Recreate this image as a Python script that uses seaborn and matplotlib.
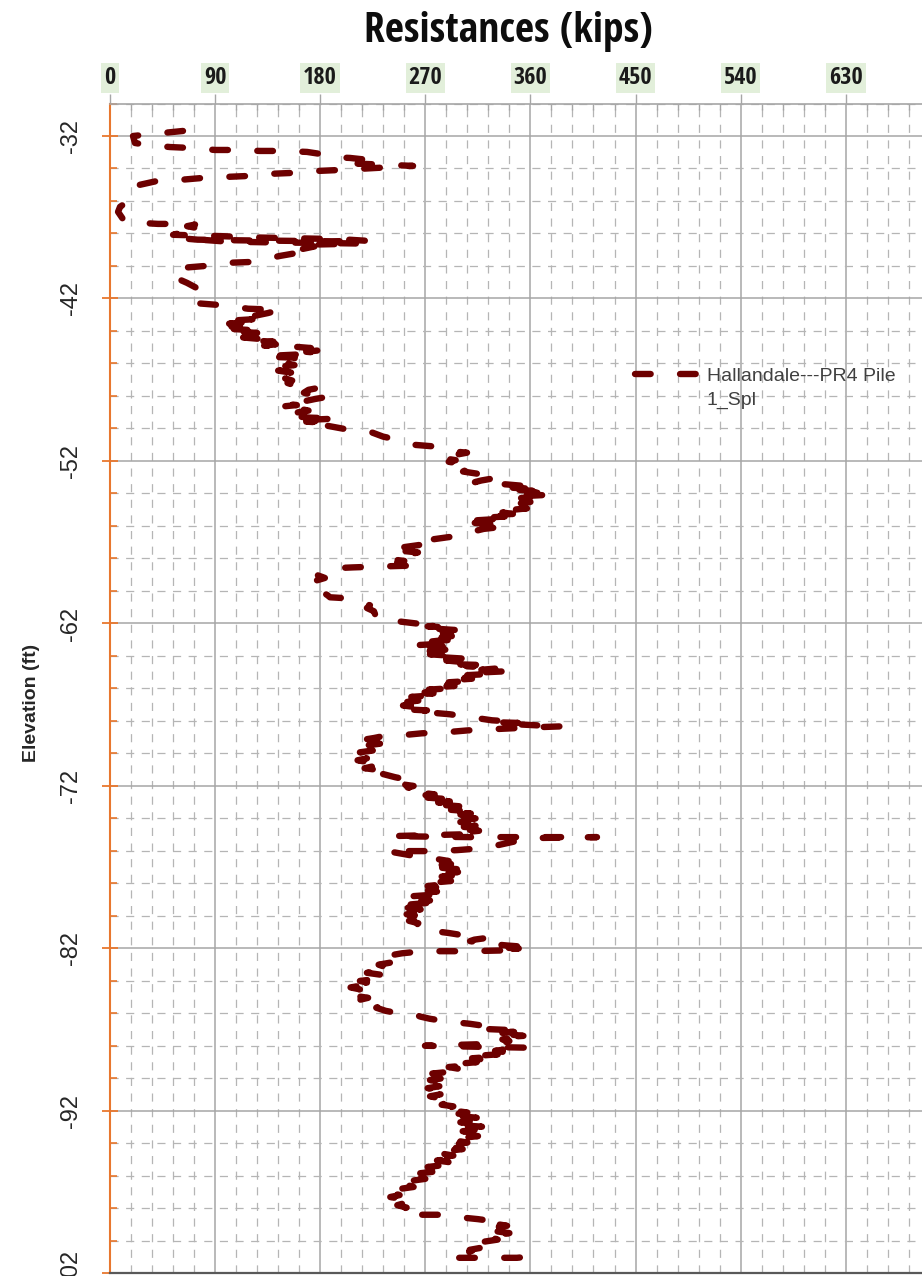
import numpy as np
import pandas as pd
import matplotlib
matplotlib.use("Agg")
import matplotlib.pyplot as plt
from matplotlib import font_manager
from matplotlib.ticker import FixedLocator, MultipleLocator
import seaborn as sns

# Pile driving resistance profile, in recording order, split by depth zone
elev_zone_a = [
    -31.69, -31.82, -32.00, -32.43, -32.55, -32.68, -32.74, -32.86, -32.86, -32.92,
    -32.92, -32.98, -33.10, -33.29, -33.35, -33.47, -33.60, -33.70, -33.78, -33.84,
    -34.09, -34.15, -34.27, -34.33, -34.46, -34.52, -34.58, -34.70, -34.77, -35.07,
    -35.93, -36.36, -36.67, -37.29, -37.41, -37.41, -37.45, -37.55, -37.70, -37.90,
    -38.08, -38.15, -38.25, -38.30, -38.35, -38.45, -38.48, -38.45, -38.42, -38.38,
    -38.30, -38.50, -38.55, -38.58, -38.62, -38.66, -38.70, -38.80, -38.95, -39.10,
    -39.20, -39.38, -39.75, -39.80, -39.99, -40.11, -40.67, -40.85, -41.04, -41.40,
]
res_zone_a = [
    62.5, 44.5, 19.7, 21.4, 31.7, 51.4, 70.2, 89.9, 108.7, 128.4,
    148.1, 168.7, 179.8, 185.8, 205.5, 220.9, 226.9, 212.0, 239.8, 259.5,
    197.0, 178.0, 156.7, 137.0, 118.2, 98.5, 79.6, 60.0, 40.2, 21.4,
    17.1, 8.6, 6.9, 12.8, 41.1, 60.0, 72.8, 66.0, 77.0, 64.0,
    54.0, 90.0, 128.4, 162.7, 197.0, 220.0, 190.0, 150.0, 110.0, 75.0,
    62.0, 100.0, 140.0, 180.0, 214.0, 188.0, 162.7, 175.0, 165.0, 152.0,
    160.0, 145.6, 121.6, 102.8, 83.0, 62.5, 53.1, 60.0, 66.0, 75.4,
]

elev_zone_b = [
    -42.26, -42.39, -42.50, -42.63, -42.66, -42.70, -42.90, -43.05, -43.19, -43.28,
    -43.36, -43.45, -43.55, -43.64, -43.72, -43.80, -43.88, -43.96, -44.04, -44.12,
    -44.20, -44.30, -44.40, -44.50, -44.58, -44.66, -44.74, -44.82, -44.90, -44.97,
    -45.05, -45.12, -45.20, -45.28, -45.34, -45.45, -45.52, -45.58, -45.64, -45.76,
    -45.89, -46.00, -46.10, -46.20, -46.32, -46.44, -46.56, -46.68, -46.80, -46.92,
    -47.05, -47.20, -47.35, -47.43, -47.52, -47.62, -47.80, -47.95, -48.04, -48.10,
    -48.18, -48.30, -48.40, -48.47, -48.56, -48.66, -48.72, -48.80, -48.90, -49.02,
    -49.12, -49.24, -49.33, -49.39, -49.46, -49.52, -49.58, -49.64, -49.70, -50.07,
    -50.20, -50.50, -50.69, -51.00, -51.12, -51.42, -51.49, -51.80, -51.95, -52.05,
    -52.20, -52.35, -52.50, -52.65, -52.80, -52.95, -53.10, -53.20, -53.30, -53.39,
    -53.45, -53.52, -53.60, -53.65, -53.72, -53.78, -53.84, -53.90, -53.96, -54.02,
    -54.10, -54.16, -54.22, -54.28, -54.36, -54.44, -54.52, -54.62, -54.72, -54.82,
    -54.92, -55.00, -55.08, -55.17, -55.26, -55.34, -55.42, -55.50, -55.58, -55.66,
    -55.74, -55.80, -55.90, -56.00, -56.09, -56.18, -56.28, -56.45, -56.65, -56.83,
    -56.95, -57.05, -57.14, -57.30, -57.40, -57.50, -57.63, -57.85, -58.06, -58.15,
    -58.25, -58.35, -58.43, -58.50, -58.55, -58.61, -58.80, -59.04, -59.20, -59.35,
    -59.50, -59.66, -59.85, -60.08, -60.25, -60.39, -60.45, -60.60, -60.70, -60.88,
    -61.05, -61.25, -61.44, -61.60, -61.69, -61.81,
]
res_zone_b = [
    68.5, 91.6, 105.0, 118.2, 131.0, 145.6, 135.0, 125.0, 110.0, 122.0,
    104.0, 118.0, 102.0, 120.0, 104.0, 122.0, 106.0, 124.0, 110.0, 126.0,
    112.0, 120.0, 114.0, 130.0, 120.0, 140.0, 126.0, 142.0, 132.0, 158.4,
    172.0, 162.0, 178.1, 168.0, 178.0, 160.0, 140.0, 132.7, 156.7, 162.0,
    167.0, 152.0, 158.0, 145.6, 156.0, 144.0, 155.0, 146.0, 156.0, 150.0,
    156.0, 152.0, 158.0, 162.0, 177.3, 170.0, 166.0, 174.0, 168.7, 182.4,
    176.0, 168.0, 158.0, 150.0, 160.0, 145.6, 158.0, 163.0, 170.0, 160.0,
    168.0, 158.0, 170.0, 194.4, 172.0, 186.0, 168.0, 182.0, 176.0, 203.8,
    222.6, 233.8, 245.8, 259.5, 280.0, 295.4, 305.7, 282.6, 296.0, 290.0,
    302.0, 298.0, 306.0, 302.3, 316.0, 310.0, 326.0, 318.0, 312.5, 330.0,
    340.8, 352.0, 362.2, 345.0, 365.0, 350.0, 362.0, 348.0, 366.0, 352.0,
    370.8, 354.0, 368.0, 352.0, 364.0, 350.0, 360.0, 350.0, 358.0, 348.0,
    357.0, 345.0, 352.0, 336.0, 345.0, 325.0, 338.0, 318.0, 330.0, 312.0,
    322.0, 310.8, 326.0, 318.0, 331.4, 320.0, 314.3, 300.0, 293.7, 275.7,
    270.0, 262.0, 268.0, 252.0, 258.0, 245.8, 263.7, 250.0, 241.5, 252.0,
    246.0, 258.0, 262.9, 228.6, 208.0, 188.4, 182.0, 178.0, 184.0, 177.0,
    182.0, 175.5, 180.0, 182.0, 186.0, 188.4, 203.0, 210.0, 214.0, 222.6,
    220.0, 226.0, 227.0, 232.0, 231.2, 239.8,
]

elev_zone_c = [
    -62.05, -62.12, -62.18, -62.25, -62.32, -62.42, -62.50, -62.58, -62.67, -62.75,
    -62.85, -62.98, -63.05, -63.15, -63.25, -63.34, -63.42, -63.50, -63.59, -63.66,
    -63.75, -63.82, -63.90, -64.00, -64.08, -64.15, -64.20, -64.28, -64.36, -64.45,
    -64.52, -64.57, -64.62, -64.70, -64.76, -64.85, -64.94, -65.00, -65.05, -65.12,
    -65.18, -65.25, -65.32, -65.40, -65.47, -65.55, -65.62, -65.70, -65.77, -65.85,
    -65.92, -66.00, -66.07, -66.15, -66.22, -66.30, -66.37, -66.45, -66.52, -66.60,
    -66.68, -66.75, -66.85, -66.95, -67.05, -67.15, -67.28, -67.35, -67.45, -67.52,
    -67.59, -67.68, -67.78, -67.86, -67.96, -68.02, -68.08, -68.12, -68.18, -68.22,
    -68.27, -68.33, -68.40, -68.50, -68.58, -68.70, -68.76, -68.89, -68.95, -69.05,
    -69.12, -69.20, -69.30, -69.40, -69.50, -69.60, -69.70, -69.82, -69.93, -70.05,
    -70.18, -70.30, -70.42, -70.55, -70.65, -70.78, -70.91, -71.00, -71.10, -71.22,
    -71.35, -71.46, -71.55, -71.65, -71.77, -71.90, -72.00, -72.10, -72.20, -72.32,
    -72.45, -72.52, -72.58, -72.65, -72.72, -72.80, -72.87, -72.95, -73.02, -73.10,
    -73.17, -73.25, -73.32, -73.40, -73.47, -73.55, -73.62, -73.70, -73.77, -73.85,
    -73.92, -74.00, -74.08, -74.15, -74.22, -74.30, -74.38, -74.45, -74.52, -74.60,
    -74.68, -74.76, -74.84, -74.96, -75.09, -75.15, -75.15, -75.15, -75.21, -75.82,
    -75.95, -76.01, -76.01, -76.37, -76.50, -76.62, -76.70, -76.78, -76.86, -76.95,
    -77.03, -77.12, -77.20, -77.30, -77.40, -77.48, -77.58, -77.66, -77.75, -77.85,
    -77.95, -78.05, -78.16, -78.28, -78.40, -78.50, -78.60, -78.71, -78.80, -78.90,
    -78.98, -79.05, -79.12, -79.20, -79.30, -79.40, -79.50, -79.60, -79.70, -79.80,
    -79.90, -80.00, -80.10, -80.20, -80.30, -80.45, -80.60, -80.75, -80.94, -81.05,
    -81.18, -81.28, -81.37, -81.46, -81.55, -81.65, -81.75, -81.82, -81.88, -81.94,
    -82.00, -82.06, -82.11, -82.17, -82.17, -82.17,
]
res_zone_c = [
    268.0, 282.0, 272.0, 290.0, 278.0, 299.7, 282.0, 292.0, 280.0, 296.0,
    284.0, 301.4, 283.0, 270.0, 284.0, 261.2, 285.0, 274.0, 292.9, 278.0,
    268.0, 282.0, 274.0, 295.0, 284.0, 300.0, 308.3, 288.0, 300.0, 312.0,
    300.0, 325.4, 305.0, 317.0, 333.0, 318.0, 340.0, 322.0, 312.0, 322.0,
    306.0, 315.0, 300.0, 310.0, 296.0, 306.0, 290.0, 300.0, 284.0, 295.0,
    279.0, 289.0, 273.0, 283.0, 267.0, 277.0, 262.0, 272.0, 258.0, 268.0,
    254.0, 264.0, 252.0, 266.0, 250.9, 262.0, 250.9, 271.4, 262.0, 280.0,
    291.1, 300.0, 310.0, 318.0, 327.1, 340.0, 330.0, 349.4, 338.0, 352.0,
    365.6, 387.9, 360.0, 330.0, 306.6, 286.9, 267.2, 248.3, 232.9, 226.0,
    220.1, 232.0, 222.0, 231.2, 220.0, 228.0, 218.0, 225.0, 214.0, 222.0,
    212.4, 220.0, 212.0, 222.0, 215.0, 226.0, 218.0, 228.0, 220.0, 231.2,
    238.0, 244.0, 250.0, 246.0, 255.2, 250.0, 260.0, 255.0, 264.0, 260.0,
    270.0, 278.0, 268.0, 282.0, 272.0, 287.0, 277.0, 291.0, 281.0, 295.0,
    285.0, 299.0, 289.0, 302.0, 292.0, 306.0, 296.0, 309.0, 299.0, 312.0,
    302.0, 313.0, 301.0, 312.0, 300.0, 311.0, 301.0, 313.0, 303.0, 315.0,
    304.0, 316.0, 305.0, 312.0, 239.8, 308.3, 359.6, 417.0, 359.6, 321.1,
    297.1, 276.6, 237.2, 265.5, 280.0, 290.0, 280.0, 296.0, 284.0, 298.0,
    283.0, 297.0, 282.0, 298.0, 285.0, 299.0, 284.0, 295.0, 282.0, 292.0,
    276.0, 286.0, 272.0, 284.0, 268.0, 280.0, 262.0, 274.0, 256.0, 250.9,
    266.0, 274.0, 258.0, 272.0, 256.0, 268.0, 255.0, 266.0, 254.0, 264.0,
    254.0, 265.0, 254.0, 262.0, 256.0, 264.0, 262.0, 270.0, 278.3, 290.0,
    301.4, 312.0, 321.1, 312.0, 308.3, 318.0, 329.7, 340.0, 351.1, 335.0,
    350.0, 338.0, 345.0, 308.3, 288.6, 268.0,
]

elev_zone_d = [
    -82.30, -82.40, -82.55, -82.70, -82.85, -83.00, -83.15, -83.28, -83.40, -83.50,
    -83.62, -83.76, -83.88, -84.00, -84.10, -84.18, -84.30, -84.40, -84.52, -84.65,
    -84.80, -84.92, -85.04, -85.16, -85.28, -85.40, -85.53, -85.65, -85.84, -85.95,
    -86.02, -86.08, -86.20, -86.33, -86.42, -86.51, -86.58, -86.64, -86.72, -86.82,
    -86.90, -86.96, -87.01, -87.08, -87.14, -87.20, -87.26, -87.31, -87.38, -87.45,
    -87.52, -87.60, -87.70, -87.86, -87.99, -88.11, -88.20, -88.30, -88.38, -88.45,
    -88.52, -88.60, -88.68, -88.76, -88.84, -88.92, -89.00, -89.10, -89.20, -89.30,
    -89.40, -89.50, -89.60, -89.70, -89.80, -89.90, -90.00, -90.10, -90.22, -90.35,
    -90.48, -90.60, -90.72, -90.85, -90.98, -91.10, -91.25, -91.38, -91.50, -91.62,
    -91.72, -91.82, -91.92, -92.00, -92.10, -92.18, -92.26, -92.34, -92.42, -92.50,
    -92.60, -92.70, -92.80, -92.90, -92.97, -93.05, -93.15, -93.25, -93.35, -93.45,
    -93.55, -93.65, -93.75, -93.85, -93.95, -94.05, -94.15, -94.25, -94.35, -94.45,
    -94.55, -94.65, -94.75, -94.85, -94.95, -95.05, -95.15, -95.25, -95.35, -95.45,
    -95.55, -95.65, -95.75, -95.85, -95.95, -96.05, -96.18, -96.30, -96.42, -96.55,
    -96.68, -96.80, -96.92, -97.05, -97.18, -97.30, -97.42, -97.55, -97.68, -97.80,
    -97.95, -98.10, -98.25, -98.39, -98.39, -98.48, -98.58, -98.66, -98.76, -98.85,
    -98.95, -99.07, -99.18, -99.30, -99.40, -99.52, -99.62, -99.72, -99.82, -99.92,
    -100.05, -100.18, -100.30, -100.42, -100.55, -100.61, -101.04, -101.04, -100.92,
]
res_zone_d = [
    250.0, 242.0, 246.0, 236.0, 242.0, 230.0, 236.0, 224.0, 228.0, 220.0,
    232.0, 222.0, 228.0, 214.0, 220.0, 205.5, 214.0, 206.0, 214.0, 208.0,
    216.0, 210.0, 221.0, 214.0, 222.0, 220.0, 231.2, 228.0, 236.0, 244.0,
    248.3, 261.2, 266.0, 274.0, 282.0, 291.1, 300.0, 308.3, 316.0, 319.4,
    330.0, 322.0, 338.2, 328.0, 346.0, 336.0, 352.0, 344.0, 354.0, 340.0,
    348.0, 336.0, 342.0, 334.0, 269.7, 357.9, 340.0, 329.7, 338.0, 322.0,
    332.0, 316.0, 326.0, 310.0, 320.0, 304.0, 314.0, 298.0, 306.0, 290.0,
    298.0, 284.0, 290.0, 276.0, 284.0, 274.0, 284.0, 274.0, 283.0, 272.0,
    282.0, 272.0, 282.0, 274.0, 283.0, 274.0, 284.0, 278.0, 288.0, 284.0,
    294.0, 290.0, 302.0, 296.0, 306.0, 298.0, 312.5, 302.0, 314.0, 302.0,
    312.0, 300.0, 316.0, 304.0, 318.5, 304.0, 314.0, 302.0, 312.0, 302.0,
    315.1, 303.0, 310.0, 298.0, 306.0, 294.0, 303.0, 294.0, 302.0, 290.0,
    298.0, 286.0, 294.0, 282.0, 292.0, 280.0, 290.0, 276.0, 284.0, 272.0,
    282.0, 268.0, 276.0, 263.7, 272.0, 262.0, 270.0, 258.0, 266.0, 254.0,
    260.0, 248.0, 254.0, 242.0, 248.0, 240.0, 250.0, 243.0, 252.0, 246.0,
    254.0, 248.0, 258.0, 265.5, 282.6, 295.0, 304.0, 315.0, 325.4, 335.0,
    330.0, 340.0, 328.0, 338.0, 330.0, 342.0, 334.0, 340.0, 328.0, 332.0,
    320.0, 326.0, 314.0, 318.0, 308.0, 310.0, 291.1, 348.5, 365.6,
]

x_major_ticks = [0, 90, 180, 270, 360, 450, 540, 630]
y_major_ticks = [-102, -92, -82, -72, -62, -52, -42, -32]
series_name = "Hallandale---PR4 Pile"
series_name_cont = "1_Spl"

line_color = "#6D0000"
orange = "#E8772E"
grid_major = "#A6A6A6"
grid_minor = "#B5B5B5"

sns.set_theme(style="white")
installed = {f.name for f in font_manager.fontManager.ttflist}
plt.rcParams["font.family"] = ["Liberation Sans", "DejaVu Sans"]
condensed = [n for n in ["Liberation Sans Narrow", "Open Sans Condensed",
                         "Roboto Condensed"] if n in installed]
if condensed:
    head_family = [condensed[0], "Liberation Sans", "DejaVu Sans"]
    title_size, xtick_size = 30, 17.5
else:
    head_family = ["Liberation Sans", "DejaVu Sans"]
    title_size, xtick_size = 26, 15.5

elevation_ft = elev_zone_a + elev_zone_b + elev_zone_c + elev_zone_d
resistance_kips = res_zone_a + res_zone_b + res_zone_c + res_zone_d
df = pd.DataFrame({"Resistance": resistance_kips, "Elevation": elevation_ft})

W, H = 922, 1276
fig = plt.figure(figsize=(W / 100, H / 100), dpi=100)
fig.patch.set_facecolor("white")
ax_top_px, ax_bot_px = 103.5, 1273.4
ax = fig.add_axes([110 / W, (H - ax_bot_px) / H, 1 - 110 / W, (ax_bot_px - ax_top_px) / H])
ax.set_facecolor("white")

sns.lineplot(
    data=df, x="Resistance", y="Elevation", sort=False, estimator=None,
    color=line_color, linewidth=4.6, linestyle=(0, (2.45, 4.6)),
    dash_capstyle="round", dash_joinstyle="round", legend=False, ax=ax,
)
line = ax.lines[0]

ax.set_xlim(0, 695.3)
ax.set_ylim(-102, -30)
ax.set_xlabel("")
ax.set_ylabel("")

ax.xaxis.set_major_locator(FixedLocator(x_major_ticks))
ax.xaxis.set_minor_locator(MultipleLocator(18))
ax.yaxis.set_major_locator(FixedLocator(y_major_ticks))
ax.yaxis.set_minor_locator(FixedLocator(np.arange(-102, -29, 2)))
ax.xaxis.tick_top()

ax.set_axisbelow(True)
ax.grid(which="major", color=grid_major, linewidth=1.1, linestyle="-")
ax.grid(which="minor", color=grid_minor, linewidth=0.9, linestyle=(0, (6.5, 6)))

ax.spines["right"].set_visible(False)
ax.spines["left"].set_color(orange)
ax.spines["left"].set_linewidth(1.5)
ax.spines["top"].set_color(grid_major)
ax.spines["top"].set_linewidth(1.2)
ax.spines["bottom"].set_color("#595959")
ax.spines["bottom"].set_linewidth(1.6)

ax.tick_params(axis="y", which="major", direction="inout", length=11, width=1.3,
               color=orange, left=True, right=False, pad=15)
ax.tick_params(axis="y", which="minor", direction="in", length=5, width=1.2,
               color=orange, left=True, right=False)
ax.tick_params(axis="x", which="major", direction="out", length=7, width=1.0,
               color=grid_major, top=True, bottom=False, labeltop=True,
               labelbottom=False, pad=3)
ax.tick_params(axis="x", which="minor", direction="in", length=4, width=1.0,
               color=grid_major, top=True, bottom=False)

ax.set_xticklabels([str(v) for v in x_major_ticks], family=head_family,
                   fontweight="bold", fontsize=xtick_size, color="#1A1A1A",
                   bbox=dict(boxstyle="square,pad=0.12", facecolor="#E2EFDA",
                             edgecolor="none"))
ax.set_yticklabels([str(v) for v in y_major_ticks], rotation=90, va="center",
                   fontsize=17, color="#262626")

fig.text(508 / W, 1 - 31 / H, "Resistances (kips)", ha="center", va="center",
         family=head_family, fontweight="bold", fontsize=title_size, color="#0D0D0D")
fig.text(31 / W, 1 - 703 / H, "Elevation (ft)", rotation=90, ha="center",
         va="center", fontsize=14, fontweight="bold", color="#262626")

leg = ax.legend([line], [series_name], loc="upper left",
                bbox_to_anchor=(635 / W, 1 - 367 / H), bbox_transform=fig.transFigure,
                frameon=False, borderpad=0, borderaxespad=0, handlelength=3.6,
                handletextpad=0.1, prop={"size": 14})
for t in leg.get_texts():
    t.set_color("#404040")

fig.canvas.draw()
bb = leg.get_texts()[0].get_window_extent(fig.canvas.get_renderer())
first_center = (bb.y0 + bb.y1) / 2
fig.text(bb.x0 / W, (first_center - 24) / H, series_name_cont, ha="left",
         va="center", fontsize=14, color="#404040")

fig.savefig("out.png", dpi=100, facecolor="white")
